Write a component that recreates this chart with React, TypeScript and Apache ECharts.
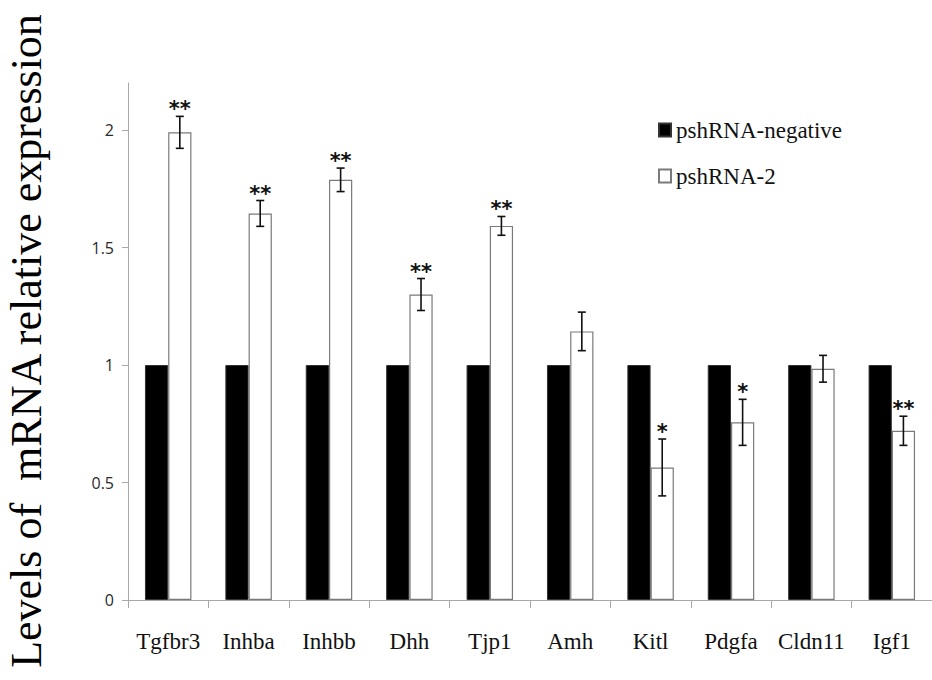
import React, { useEffect, useRef } from "react";
import * as echarts from "echarts";

const categories = ["Tgfbr3", "Inhba", "Inhbb", "Dhh", "Tjp1", "Amh", "Kitl", "Pdgfa", "Cldn11", "Igf1"];
const negativeValues = [1, 1, 1, 1, 1, 1, 1, 1, 1, 1];
const sh2Values = [1.99, 1.645, 1.788, 1.3, 1.592, 1.143, 0.564, 0.756, 0.984, 0.72];
const sh2Errors = [0.068, 0.055, 0.05, 0.068, 0.04, 0.082, 0.121, 0.098, 0.057, 0.062];
const stars = ["**", "**", "**", "**", "**", "", "*", "*", "", "**"];
const yTicks = [0, 0.5, 1, 1.5, 2];

const BAR_FRAC = 0.289;

export default function App() {
  const ref = useRef<HTMLDivElement>(null);
  useEffect(() => {
    document.body.style.margin = "0";
    if (!ref.current) return;
    const chart = echarts.init(ref.current, undefined, { renderer: "svg" });
    const errData = categories.map((_, i) => [i, sh2Values[i], sh2Errors[i]]);
    chart.setOption({
      animation: false,
      backgroundColor: "#ffffff",
      grid: { left: 128, top: 83, bottom: 80, right: -9, containLabel: false },
      legend: {
        orient: "vertical",
        left: 658,
        top: 118,
        padding: 0,
        itemWidth: 12,
        itemHeight: 13,
        itemGap: 22,
        icon: "rect",
        textStyle: { fontFamily: "Liberation Serif", fontSize: 23, color: "#111", lineHeight: 24 },
        data: ["pshRNA-negative", "pshRNA-2"],
      },
      xAxis: {
        type: "category",
        data: categories,
        axisLine: { lineStyle: { color: "#a8a8a8", width: 1 } },
        axisTick: { show: true, length: 8, lineStyle: { color: "#a8a8a8" } },
        axisLabel: { interval: 0, fontFamily: "Liberation Serif", fontSize: 23, color: "#111", margin: 30 },
      },
      yAxis: {
        type: "value",
        min: 0,
        max: 2.2,
        interval: 0.5,
        splitLine: { show: false },
        axisLine: { show: true, lineStyle: { color: "#a8a8a8", width: 1 } },
        axisTick: { show: true, length: 6, lineStyle: { color: "#a8a8a8" }, customValues: yTicks },
        axisLabel: {
          fontFamily: "Open Sans",
          fontSize: 16,
          color: "#2a2a2a",
          margin: 14,
          customValues: yTicks,
        },
      },
      graphic: [
        {
          type: "text",
          x: 26,
          y: 341,
          rotation: Math.PI / 2,
          style: {
            text: "Levels of  mRNA relative expression",
            fontFamily: "Liberation Serif",
            fontSize: 44,
            fill: "#000",
            textAlign: "center",
            textVerticalAlign: "middle",
          },
        },
      ],
      series: [
        {
          name: "pshRNA-negative",
          type: "bar",
          data: negativeValues,
          barWidth: BAR_FRAC * 100 + "%",
          barGap: "0%",
          itemStyle: { color: "#000", borderColor: "#333", borderWidth: 1 },
        },
        {
          name: "pshRNA-2",
          type: "bar",
          data: sh2Values,
          barWidth: BAR_FRAC * 100 + "%",
          barGap: "0%",
          itemStyle: { color: "#fff", borderColor: "#7a7a7a", borderWidth: 1.2 },
        },
        {
          name: "err",
          type: "custom",
          data: errData,
          z: 10,
          renderItem: (params: any, api: any) => {
            const idx = api.value(0);
            const v = api.value(1);
            const e = api.value(2);
            const s = stars[idx];
            const bandW = api.size([1, 0])[0];
            const off = (bandW * BAR_FRAC) / 2;
            const hi = api.coord([idx, v + e]);
            const lo = api.coord([idx, v - e]);
            const x = hi[0] + off;
            const cap = 4;
            const ls = { stroke: "#111", lineWidth: 1.6 };
            const children: any[] = [
              { type: "line", shape: { x1: x, y1: hi[1], x2: x, y2: lo[1] }, style: ls },
              { type: "line", shape: { x1: x - cap, y1: hi[1], x2: x + cap, y2: hi[1] }, style: ls },
              { type: "line", shape: { x1: x - cap, y1: lo[1], x2: x + cap, y2: lo[1] }, style: ls },
            ];
            if (s) {
              children.push({
                type: "text",
                x: x,
                y: hi[1] - 7,
                style: {
                  text: s,
                  fontFamily: "DejaVu Sans",
                  fontWeight: "bold",
                  fontSize: 21,
                  fill: "#111",
                  textAlign: "center",
                  textVerticalAlign: "middle",
                },
              });
            }
            return { type: "group", children };
          },
        },
      ],
    });
    return () => chart.dispose();
  }, []);
  return <div ref={ref} style={{ width: 932, height: 680 }} />;
}
